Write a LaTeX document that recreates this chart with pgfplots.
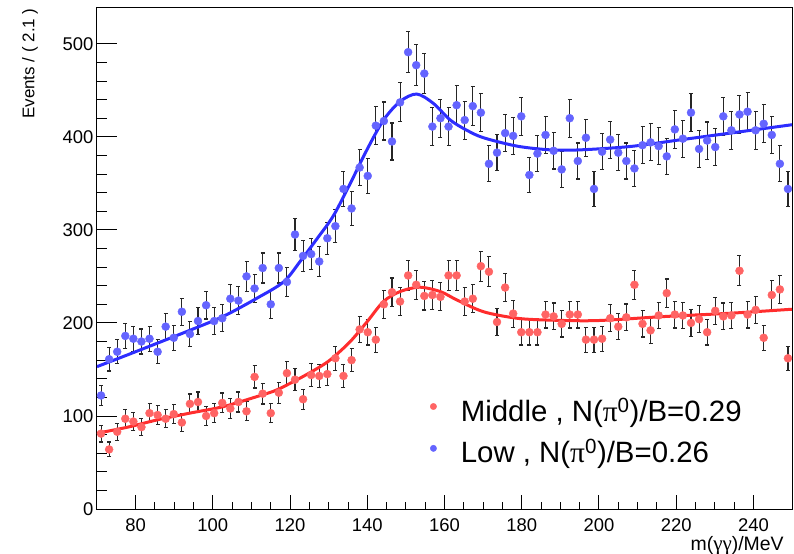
\documentclass[border=0pt]{standalone}
\usepackage{pgfplots}
\usepackage{pgfplotstable}
\pgfplotsset{compat=1.18}
\usepackage{fontspec}
\setmainfont{Liberation Sans}
\newfontfamily\symf{Liberation Serif}
\definecolor{ptblue}{RGB}{100,100,255}
\definecolor{ptred}{RGB}{255,100,100}
\definecolor{lnblue}{RGB}{45,45,255}
\definecolor{lnred}{RGB}{255,45,45}

\pgfplotstableread{
x low mid
71.05 122 81
73.14 161 64
75.23 169 83
77.33 186 97
79.42 183 94
81.51 180 88
83.60 183 103
85.70 169 101
87.79 196 97
89.88 184 102
91.98 212 93
94.07 188 113
96.16 202 115
98.26 219 100
100.35 202 103
102.44 205 114
104.53 226 108
106.63 224 115
108.72 250 105
110.81 237 142
112.91 259 124
115.00 220 103
117.09 259 125
119.19 244 146
121.28 295 139
123.37 272 118
125.47 274 144
127.56 266 143
129.65 291 145
131.74 304 162
133.84 344 143
135.93 323 160
138.02 367 193
140.12 358 190
142.21 412 182
144.30 417 220
146.40 395 233
148.49 437 223
150.58 491 251
152.67 477 241
154.77 468 229
156.86 411 230
158.95 420 228
161.05 411 251
163.14 434 251
165.23 418 223
167.33 433 226
169.42 426 261
171.51 371 255
173.60 383 201
175.70 404 238
177.79 401 210
179.88 422 190
181.98 359 190
184.07 382 190
186.16 402 209
188.26 385 207
190.35 365 199
192.44 420 209
194.53 374 209
196.63 399 182
198.72 344 182
200.81 384 183
202.91 397 205
205.00 383 196
207.09 374 206
209.19 366 241
211.28 391 199
213.37 394 192
215.47 390 208
217.56 379 232
219.65 408 209
221.74 398 208
223.84 426 200
225.93 387 204
228.02 396 190
230.12 389 213
232.21 422 207
234.30 407 208
236.40 424 256
238.49 427 209
240.58 407 214
242.67 414 184
244.77 402 230
246.86 371 236
248.95 344 162
}\datatable

\pgfplotstableread{
x y
70 153
77.5 165
85.5 178
94 192
102.7 207
111.4 226.5
118.3 244
122.6 266
126.9 290
131.2 315
135.6 350
139.9 386
144.2 418
148.5 438
152.8 446
157.1 436
161.5 418
165.8 407
170.1 399
178.8 390
187.4 386
195.2 386
208.1 389.6
221.1 396.8
234 404
250 413
}\fitlow

\pgfplotstableread{
x y
70 81.4
78 88
85.5 95.7
94 103
102.7 110
111.4 120.8
116 127
120 135
124.5 145
128.6 155
131.2 163
135.6 180
139.9 201
144.2 223
148.5 233.7
153.5 238.4
158.9 233.7
163.2 224.7
170.1 212
178.8 205
187.4 203
199.5 202.5
216.7 206.8
234 210.4
250 214.7
}\fitmid

\begin{document}
\begin{tikzpicture}
\begin{axis}[
  width=695bp, height=501.5bp, scale only axis,
  xmin=70, xmax=250, ymin=0, ymax=539,
  xtick={80,100,...,240}, minor x tick num=3,
  ytick={0,100,...,500}, minor y tick num=4,
  tick align=inside, xtick pos=lower, ytick pos=left,
  xtick style={/pgfplots/major tick length=14bp, /pgfplots/minor tick length=7bp, line width=0.9bp, black},
  ytick style={/pgfplots/major tick length=20bp, /pgfplots/minor tick length=10bp, line width=0.9bp, black},
  axis line style={line width=1bp, black},
  /pgf/number format/assume math mode=true,
  ticklabel style={font=\fontsize{18.5}{20}\selectfont},
  xticklabel style={yshift=-6bp},
  xlabel={m({\symf\fontsize{21}{22}\selectfont γγ})/MeV},
  xlabel style={font=\fontsize{19.5}{21}\selectfont, at={(axis description cs:0.993,-0.0818)}, anchor=base east},
  ylabel={Events / ( 2.1 )},
  ylabel style={font=\fontsize{17}{19}\selectfont, at={(axis description cs:-0.0964,1.005)}, anchor=east},
  legend cell align=left,
  legend style={draw=none, fill=none, at={(axis description cs:0.4789,0.1555)}, anchor=west,
     font=\fontsize{29.5}{31}\selectfont, row sep=13bp, inner sep=0pt,
     /tikz/every odd column/.append style={column sep=22bp}},
  legend image code/.code={\fill[#1] (0bp,0.36em) circle (3.2bp);},
]
\addlegendimage{ptred}
\addlegendentry{Middle , N({\symf π}\textsuperscript{0})/B=0.29}
\addlegendimage{ptblue}
\addlegendentry{Low , N({\symf π}\textsuperscript{0})/B=0.26}

\addplot[only marks, mark=*, mark size=4bp, ptblue, mark options={draw=none, fill=ptblue},
  error bars/.cd, y dir=both, y explicit,
  error bar style={line width=1.1bp, black!85},
  error mark options={line width=1.1bp, black!85, mark size=2bp, rotate=90}]
  table[x=x, y=low, y error expr=sqrt(\thisrow{low})] {\datatable};
\addplot[only marks, mark=*, mark size=4bp, ptred, mark options={draw=none, fill=ptred},
  error bars/.cd, y dir=both, y explicit,
  error bar style={line width=1.1bp, black!85},
  error mark options={line width=1.1bp, black!85, mark size=2bp, rotate=90}]
  table[x=x, y=mid, y error expr=sqrt(\thisrow{mid})] {\datatable};

\addplot[lnblue, line width=3bp, smooth, no marks] table[x=x, y=y] {\fitlow};
\addplot[lnred, line width=3bp, smooth, no marks] table[x=x, y=y] {\fitmid};
\end{axis}
\pgfresetboundingbox
\path (-97bp,-45bp) rectangle (697bp,509bp);
\end{tikzpicture}
\end{document}
